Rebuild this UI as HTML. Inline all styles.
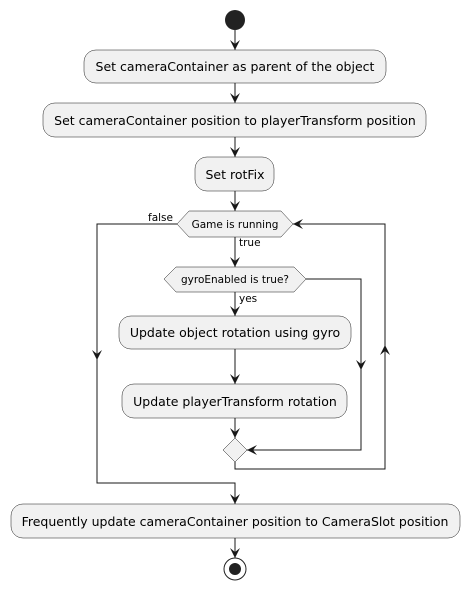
<!DOCTYPE html>
<html><head><meta charset="utf-8"><style>
html,body{margin:0;padding:0;background:#fff;width:469px;height:590px;overflow:hidden}
svg text{font-family:"DejaVu Sans","Liberation Sans",sans-serif;font-size:12.5px;fill:#000}
</style></head><body>
<svg width="469" height="590" viewBox="0 0 469 590" xmlns="http://www.w3.org/2000/svg">
<defs>
<g id="ad"><path d="M0,0 L-5,-10 L0,-6 L5,-10 Z" fill="#181818"/></g>
</defs>
<g stroke="#181818" stroke-width="1" fill="none">
<line x1="235" y1="30" x2="235" y2="50"/>
<line x1="235" y1="83" x2="235" y2="103"/>
<line x1="235" y1="137" x2="235" y2="157"/>
<line x1="235" y1="191" x2="235" y2="211"/>
<line x1="235" y1="237" x2="235" y2="267"/>
<line x1="235" y1="292" x2="235" y2="316"/>
<line x1="235" y1="349" x2="235" y2="384"/>
<line x1="235" y1="418" x2="235" y2="438"/>
<line x1="235" y1="538" x2="235" y2="558"/>
<polyline points="177,224 97,224 97,483 235,483 235,504"/>
<polyline points="306,279 361,279 361,450 247,450"/>
<polyline points="235,462 235,469 385,469 385,224 293,224"/>
</g>
<use href="#ad" x="235" y="50"/>
<use href="#ad" x="235" y="103"/>
<use href="#ad" x="235" y="157"/>
<use href="#ad" x="235" y="211"/>
<use href="#ad" x="235" y="267"/>
<use href="#ad" x="235" y="316"/>
<use href="#ad" x="235" y="384"/>
<use href="#ad" x="235" y="438"/>
<use href="#ad" x="235" y="504"/>
<use href="#ad" x="235" y="558"/>
<use href="#ad" x="97" y="360"/>
<use href="#ad" x="361" y="370"/>
<path d="M385,345 L380,355 L385,351 L390,355 Z" fill="#181818"/>
<path d="M247,450 L257,445 L253,450 L257,455 Z" fill="#181818"/>
<path d="M293,224 L303,219 L299,224 L303,229 Z" fill="#181818"/>
<circle cx="235" cy="20" r="10" fill="#222"/>
<g fill="#f1f1f1" stroke="#181818" stroke-width="0.5">
<rect x="84" y="50" width="302" height="33" rx="12"/>
<rect x="43" y="103" width="383" height="34" rx="12"/>
<rect x="195" y="157" width="79" height="34" rx="12"/>
<polygon points="177,224 189,211 281,211 293,224 281,237 189,237"/>
<polygon points="164,279 176,267 294,267 306,279 294,292 176,292"/>
<rect x="119" y="316" width="232" height="33" rx="12"/>
<rect x="122" y="384" width="225" height="34" rx="12"/>
<polygon points="235,438 247,450 235,462 223,450"/>
<rect x="11" y="504" width="449" height="34" rx="12"/>
</g>
<circle cx="235" cy="569" r="11" fill="#fff" stroke="#222" stroke-width="1"/>
<circle cx="235" cy="569" r="6" fill="#222"/>
<g text-anchor="middle">
<text x="235" y="71">Set cameraContainer as parent of the object</text>
<text x="235" y="125">Set cameraContainer position to playerTransform position</text>
<text x="235" y="179">Set rotFix</text>
<text x="235" y="228" style="font-size:10.5px">Game is running</text>
<text x="235" y="283" style="font-size:10.5px">gyroEnabled is true?</text>
<text x="235" y="337">Update object rotation using gyro</text>
<text x="235" y="406">Update playerTransform rotation</text>
<text x="235" y="526">Frequently update cameraContainer position to CameraSlot position</text>
</g>
<text x="148" y="221" style="font-size:10.5px">false</text>
<text x="239" y="246" style="font-size:10.5px">true</text>
<text x="239" y="302" style="font-size:10.5px">yes</text>
</svg>
</body></html>
